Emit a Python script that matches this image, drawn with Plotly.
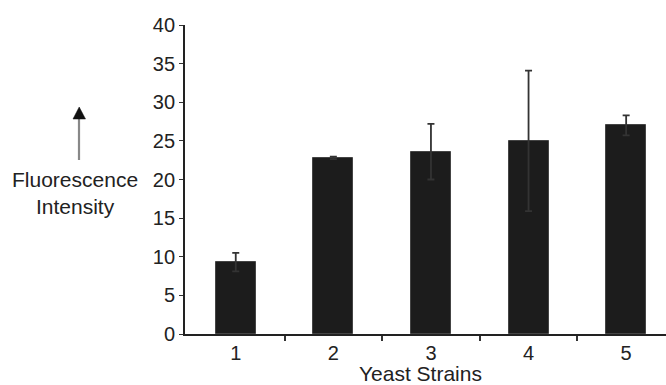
import plotly.graph_objects as go

strains = [1, 2, 3, 4, 5]
intensity = [9.3, 22.8, 23.6, 25.0, 27.0]
errors = [1.2, 0.15, 3.6, 9.1, 1.3]
y_ticks = [0, 5, 10, 15, 20, 25, 30, 35, 40]

W, H = 666, 385
L, R, T, B = 185, 0, 25, 51
pw, ph = W - L - R, H - T - B

def px(x):
    return (x - L) / pw

def py(y):
    return (H - B - y) / ph

tick_font = dict(family="Liberation Sans, Arial, sans-serif", size=20, color="#222")
label_font = dict(family="Liberation Sans, Arial, sans-serif", size=21, color="#222")

fig = go.Figure()
fig.add_trace(go.Bar(
    x=strains, y=intensity, width=0.41,
    marker=dict(color="#1c1c1c", line=dict(color="#444", width=1)),
    error_y=dict(type="data", array=errors, visible=True, color="#333", thickness=1.8, width=3.5),
))

fig.update_layout(
    width=W, height=H,
    margin=dict(l=L, r=R, t=T, b=B),
    plot_bgcolor="white", paper_bgcolor="white",
    showlegend=False, font=tick_font,
    bargap=0,
    xaxis=dict(
        range=[0.48, 0.48 + pw / 97.6], automargin=False,
        tickvals=strains, ticktext=[str(s) for s in strains],
        ticks="", showgrid=False, zeroline=False,
        showline=True, linecolor="#222", linewidth=1.8,
        minor=dict(tickvals=[1.5, 2.5, 3.5, 4.5], ticks="outside", ticklen=5, tickcolor="#333", tickwidth=1.5),
        tickfont=tick_font,
    ),
    yaxis=dict(
        range=[0, 40], tickvals=y_ticks, automargin=False,
        ticks="outside", ticklen=4, tickcolor="#333", tickwidth=1.2,
        showgrid=False, zeroline=False,
        showline=True, linecolor="#222", linewidth=1.8,
        tickfont=tick_font,
    ),
)

# Axis title
fig.add_annotation(
    x=px(420.5), y=py(373), xref="paper", yref="paper",
    text="Yeast Strains", showarrow=False,
    font=label_font, xanchor="center", yanchor="middle",
)

# Side label with arrow
fig.add_annotation(
    x=px(75), y=py(193), xref="paper", yref="paper",
    text="Fluorescence<br>Intensity", showarrow=False,
    font=label_font, xanchor="center", yanchor="middle", align="center",
)
fig.add_shape(type="line", xref="paper", yref="paper",
              x0=px(79), x1=px(79), y0=py(160), y1=py(118),
              line=dict(color="#888", width=2.2))
fig.add_shape(type="path", xref="paper", yref="paper",
              path=f"M {px(73)} {py(119)} L {px(85.5)} {py(119)} L {px(79.2)} {py(107)} Z",
              fillcolor="#111", line=dict(color="#111", width=0.5))

fig.write_html("out.html", config={"displayModeBar": False},
               post_script="document.body.style.margin='0';document.body.style.overflow='hidden';")
